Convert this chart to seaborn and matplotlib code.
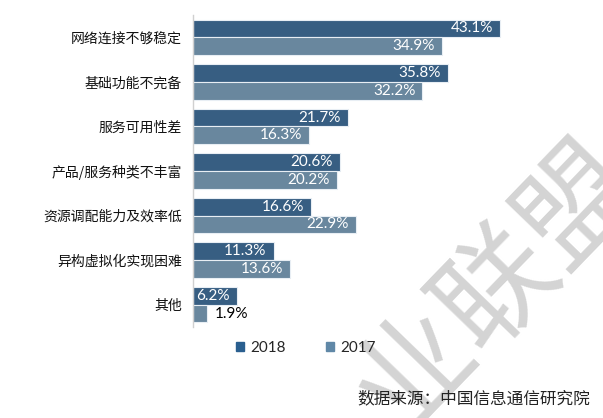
import pandas as pd
import matplotlib
matplotlib.use('Agg')
import matplotlib.pyplot as plt
import matplotlib.patches as mpatches
import seaborn as sns

# data
categories = ['网络连接不够稳定', '基础功能不完备', '服务可用性差', '产品/服务种类不丰富',
              '资源调配能力及效率低', '异构虚拟化实现困难', '其他']
values_2018 = [43.1, 35.8, 21.7, 20.6, 16.6, 11.3, 6.2]
values_2017 = [34.9, 32.2, 16.3, 20.2, 22.9, 13.6, 1.9]
years = ['2018', '2017']
colors = ['#2a5f8f', '#6088a7']

df = pd.DataFrame({
    'category': categories * 2,
    'value': values_2018 + values_2017,
    'year': ['2018'] * len(categories) + ['2017'] * len(categories),
})

sns.set_theme(style='white')
plt.rcParams['font.family'] = ['Noto Sans CJK SC', 'DejaVu Sans']

fig = plt.figure(figsize=(6.03, 4.18), dpi=100)
ax = fig.add_axes([0.320, 0.218, 0.675, 0.746])

# watermark (behind everything)
fig.text(0.826, 0.31, '业联盟', rotation=46, fontsize=84, color='#d4d4d4',
         fontweight='light', ha='center', va='center', zorder=0)

sns.barplot(data=df, y='category', x='value', hue='year', hue_order=years,
            order=categories, palette=colors, orient='h', width=0.8,
            edgecolor='#e8eef4', linewidth=0.8, ax=ax)
ax.legend_.remove()
ax.patch.set_alpha(0)

ax.set_xlim(0, 57.1)
ax.set_xlabel('')
ax.set_ylabel('')
ax.set_xticks([])
ax.tick_params(axis='y', length=0, pad=8, labelsize=10, labelcolor='#111111')
for s in ['top', 'right', 'bottom']:
    ax.spines[s].set_visible(False)
ax.spines['left'].set_color('#d0d0d0')
ax.spines['left'].set_linewidth(1)

# value labels
for container, vals in zip(ax.containers, [values_2018, values_2017]):
    for bar, v in zip(container, vals):
        yc = bar.get_y() + bar.get_height() / 2
        if v < 4:
            ax.text(v + 1.2, yc, f'{v}%', ha='left', va='center', color='black',
                    fontsize=11, family=['Lato', 'DejaVu Sans'])
        else:
            ax.text(v - 1.0, yc, f'{v}%', ha='right', va='center', color='white',
                    fontsize=11, family=['Lato', 'DejaVu Sans'])

# legend
handles = [mpatches.Patch(color=c, label=y) for c, y in zip(colors, years)]
fig.legend(handles=handles, loc='center', bbox_to_anchor=(0.507, 0.168), ncol=2,
           frameon=False, handlelength=0.55, handleheight=0.55, handletextpad=0.4,
           columnspacing=2.6, prop={'family': ['Lato', 'DejaVu Sans'], 'size': 11})

# source
fig.text(0.978, 0.047, '数据来源：中国信息通信研究院', ha='right', va='center',
         fontsize=12, color='#222222', fontweight='light')

fig.savefig('out.png', dpi=100)
